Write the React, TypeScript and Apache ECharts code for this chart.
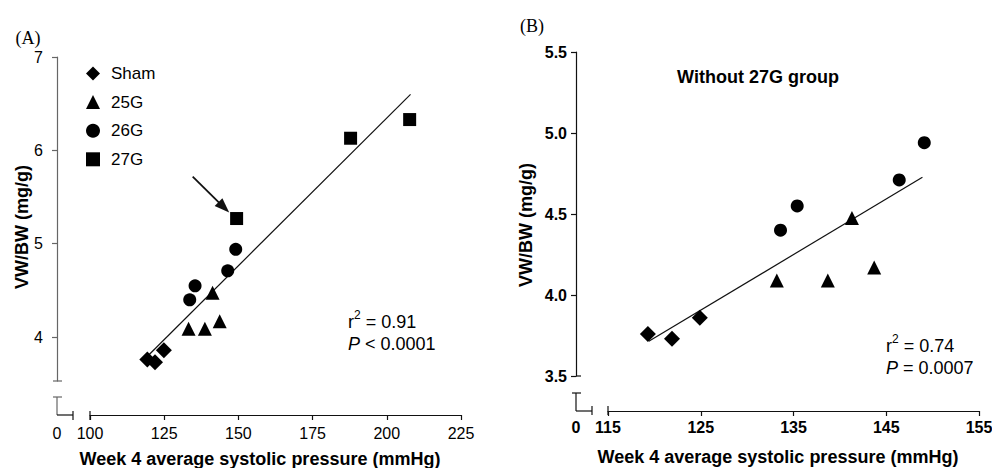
import React, { useEffect, useRef } from "react";
import * as echarts from "echarts";

const FONT = "'Liberation Sans', Arial, Helvetica, sans-serif";

// Data (x = week 4 average systolic pressure, y = VW/BW)
const shamX = [119.3, 121.9, 124.9];
const shamY = [3.76, 3.73, 3.86];
const g25X = [133.2, 138.7, 141.3, 143.7];
const g25Y = [4.09, 4.09, 4.475, 4.17];
const g26X = [133.6, 135.4, 146.4, 149.1];
const g26Y = [4.4, 4.55, 4.71, 4.94];
const g27X = [149.4, 187.8, 207.7];
const g27Y = [5.27, 6.13, 6.33];

// Regression line end points
const fitAX = [119.2, 208.0];
const fitAY = [3.79, 6.6];
const fitBX = [119.4, 148.9];
const fitBY = [3.714, 4.727];

// Arrow (panel A) start and tip
const arrowX = [134.6, 145.1];
const arrowY = [5.72, 5.39];

// Axis ticks
const ticksAY = [4, 5, 6, 7];
const ticksAX = [100, 125, 150, 175, 200, 225];
const ticksBY = [3.5, 4.0, 4.5, 5.0, 5.5];
const ticksBX = [115, 125, 135, 145, 155];

const groupNames = ["Sham", "25G", "26G", "27G"];
const groupSymbols = ["diamond", "triangle", "circle", "rect"];

const zip = (xs: number[], ys: number[]) => xs.map((x, i) => [x, ys[i]]);

export default function App() {
  const ref = useRef<HTMLDivElement>(null);
  useEffect(() => {
    if (!ref.current) return;
    const chart = echarts.init(ref.current, null, { renderer: "svg" });

    const groupsA = [zip(shamX, shamY), zip(g25X, g25Y), zip(g26X, g26Y), zip(g27X, g27Y)];
    const groupsB = [zip(shamX, shamY), zip(g25X, g25Y), zip(g26X, g26Y)];
    const symSize = [16, 14, 13, 13];

    const black = "#111";
    const lineW = 1.2;
    const ln = (x1: number, y1: number, x2: number, y2: number, color = black) => ({
      type: "line",
      shape: { x1, y1, x2, y2 },
      style: { stroke: color, lineWidth: lineW },
      silent: true,
    });
    const txt = (text: string, x: number, y: number, font: string, extra: any = {}) => ({
      type: "text",
      x,
      y,
      silent: true,
      ...extra,
      style: { text, font, fill: "#000", align: "center", verticalAlign: "middle", ...(extra.style || {}) },
    });

    const series: any[] = [];
    series.push({
      type: "line",
      xAxisIndex: 0,
      yAxisIndex: 0,
      data: zip(fitAX, fitAY),
      showSymbol: false,
      symbol: "none",
      lineStyle: { color: black, width: lineW },
      z: 1,
      silent: true,
      markLine: {
        silent: true,
        label: { show: false },
        lineStyle: { color: black, width: 1.8, type: "solid" },
        data: [
          [
            { coord: [arrowX[0], arrowY[0]], symbol: "none" },
            { coord: [arrowX[1], arrowY[1]], symbol: "triangle", symbolSize: [11, 15] },
          ],
        ],
      },
    });
    series.push({
      type: "line",
      xAxisIndex: 1,
      yAxisIndex: 1,
      data: zip(fitBX, fitBY),
      showSymbol: false,
      symbol: "none",
      lineStyle: { color: black, width: lineW },
      z: 1,
      silent: true,
    });
    groupsA.forEach((d, i) => {
      series.push({
        name: groupNames[i],
        type: "scatter",
        xAxisIndex: 0,
        yAxisIndex: 0,
        data: d,
        symbol: groupSymbols[i],
        symbolSize: symSize[i],
        itemStyle: { color: "#000", opacity: 1 },
        z: 3,
      });
    });
    groupsB.forEach((d, i) => {
      series.push({
        name: groupNames[i],
        type: "scatter",
        xAxisIndex: 1,
        yAxisIndex: 1,
        data: d,
        symbol: groupSymbols[i],
        symbolSize: symSize[i],
        itemStyle: { color: "#000", opacity: 1 },
        z: 3,
      });
    });

    const tickLabel = (bold: boolean) => ({
      fontFamily: FONT,
      fontSize: 16,
      color: "#000",
      fontWeight: bold ? "bold" : "normal",
    });

    const statRich = {
      a: { fontFamily: FONT, fontSize: 18, lineHeight: 22, verticalAlign: "bottom" },
      s: { fontFamily: FONT, fontSize: 12, lineHeight: 22, verticalAlign: "top", padding: [0, 0, 6, 0] },
      i: { fontFamily: FONT, fontSize: 18, lineHeight: 22, fontStyle: "italic", verticalAlign: "bottom" },
    };

    const option: any = {
      animation: false,
      backgroundColor: "#fff",
      grid: [
        { left: 90, top: 57, width: 371, height: 324, outerBoundsMode: "none", containLabel: false },
        { left: 608, top: 52, width: 371, height: 324, outerBoundsMode: "none", containLabel: false },
      ],
      legend: {
        orient: "vertical",
        left: 81,
        top: 60,
        itemWidth: 14,
        itemHeight: 14,
        itemGap: 11.6,
        selectedMode: false,
        data: groupNames,
        textStyle: { fontFamily: FONT, fontSize: 17, color: "#000", padding: [0, 0, 0, 6] },
      },
      xAxis: [
        {
          gridIndex: 0,
          type: "value",
          min: 100,
          max: 225,
          interval: 25,
          offset: 34,
          axisLine: { show: true, lineStyle: { color: black, width: lineW } },
          axisTick: { show: true, length: 5, customValues: ticksAX, lineStyle: { color: black, width: lineW } },
          axisLabel: { margin: 10, customValues: ticksAX, ...tickLabel(false) },
          splitLine: { show: false },
        },
        {
          gridIndex: 1,
          type: "value",
          min: 115,
          max: 155,
          interval: 10,
          offset: 35,
          axisLine: { show: true, lineStyle: { color: black, width: lineW } },
          axisTick: { show: true, length: 5, customValues: ticksBX, lineStyle: { color: black, width: lineW } },
          axisLabel: { margin: 8, customValues: ticksBX, ...tickLabel(true) },
          splitLine: { show: false },
        },
      ],
      yAxis: [
        {
          gridIndex: 0,
          type: "value",
          min: 3.53,
          max: 7,
          offset: 33,
          axisLine: { show: true, lineStyle: { color: "#666", width: lineW } },
          axisTick: { show: true, length: 5, customValues: ticksAY, lineStyle: { color: "#666", width: lineW } },
          axisLabel: { margin: 14, customValues: ticksAY, ...tickLabel(false) },
          splitLine: { show: false },
        },
        {
          gridIndex: 1,
          type: "value",
          min: 3.5,
          max: 5.5,
          interval: 0.5,
          offset: 32,
          axisLine: { show: true, lineStyle: { color: black, width: lineW } },
          axisTick: { show: true, length: 5, customValues: ticksBY, lineStyle: { color: black, width: lineW } },
          axisLabel: {
            margin: 9,
            customValues: ticksBY,
            formatter: (v: number) => v.toFixed(1),
            ...tickLabel(true),
          },
          splitLine: { show: false },
        },
      ],
      graphic: [
        txt("(A)", 28, 38, "18px 'Liberation Serif', 'Times New Roman', serif"),
        txt("(B)", 532, 26, "18px 'Liberation Serif', 'Times New Roman', serif"),
        // panel A axis breaks
        ln(53, 381, 62, 381, "#666"),
        ln(53, 397, 62, 397, "#666"),
        ln(57, 397, 57, 415, "#666"),
        ln(57, 415, 73, 415),
        ln(73, 411, 73, 420),
        ln(90, 411, 90, 420),
        txt("0", 57, 433, `16px ${FONT}`),
        // panel B axis breaks
        ln(576, 376, 581, 376),
        ln(572, 393, 581, 393),
        ln(576, 393, 576, 411),
        ln(576, 411, 592, 411),
        ln(592, 406, 592, 415),
        ln(608, 406, 608, 415),
        txt("0", 576, 427, `bold 16px ${FONT}`),
        // axis titles
        txt("Week 4 average systolic pressure (mmHg)", 260, 459, `bold 18px ${FONT}`),
        txt("Week 4 average systolic pressure (mmHg)", 778, 457, `bold 18px ${FONT}`),
        txt("VW/BW (mg/g)", 22, 227, `bold 18px ${FONT}`, { rotation: Math.PI / 2 }),
        txt("VW/BW (mg/g)", 526, 225, `bold 18px ${FONT}`, { rotation: Math.PI / 2 }),
        txt("Without 27G group", 758, 77, `bold 18px ${FONT}`),
        // statistics
        {
          type: "text",
          x: 348,
          y: 331,
          silent: true,
          style: {
            text: "{a|r}{s|2}{a| = 0.91}\n{i|P}{a| < 0.0001}",
            fill: "#000",
            align: "left",
            verticalAlign: "middle",
            rich: statRich,
          },
        },
        {
          type: "text",
          x: 886,
          y: 355,
          silent: true,
          style: {
            text: "{a|r}{s|2}{a| = 0.74}\n{i|P}{a| = 0.0007}",
            fill: "#000",
            align: "left",
            verticalAlign: "middle",
            rich: statRich,
          },
        },
      ],
      series,
    };
    chart.setOption(option);
    return () => chart.dispose();
  }, []);

  return (
    <div
      ref={ref}
      style={{ position: "absolute", left: 0, top: 0, width: 992, height: 468, background: "#fff" }}
    />
  );
}
